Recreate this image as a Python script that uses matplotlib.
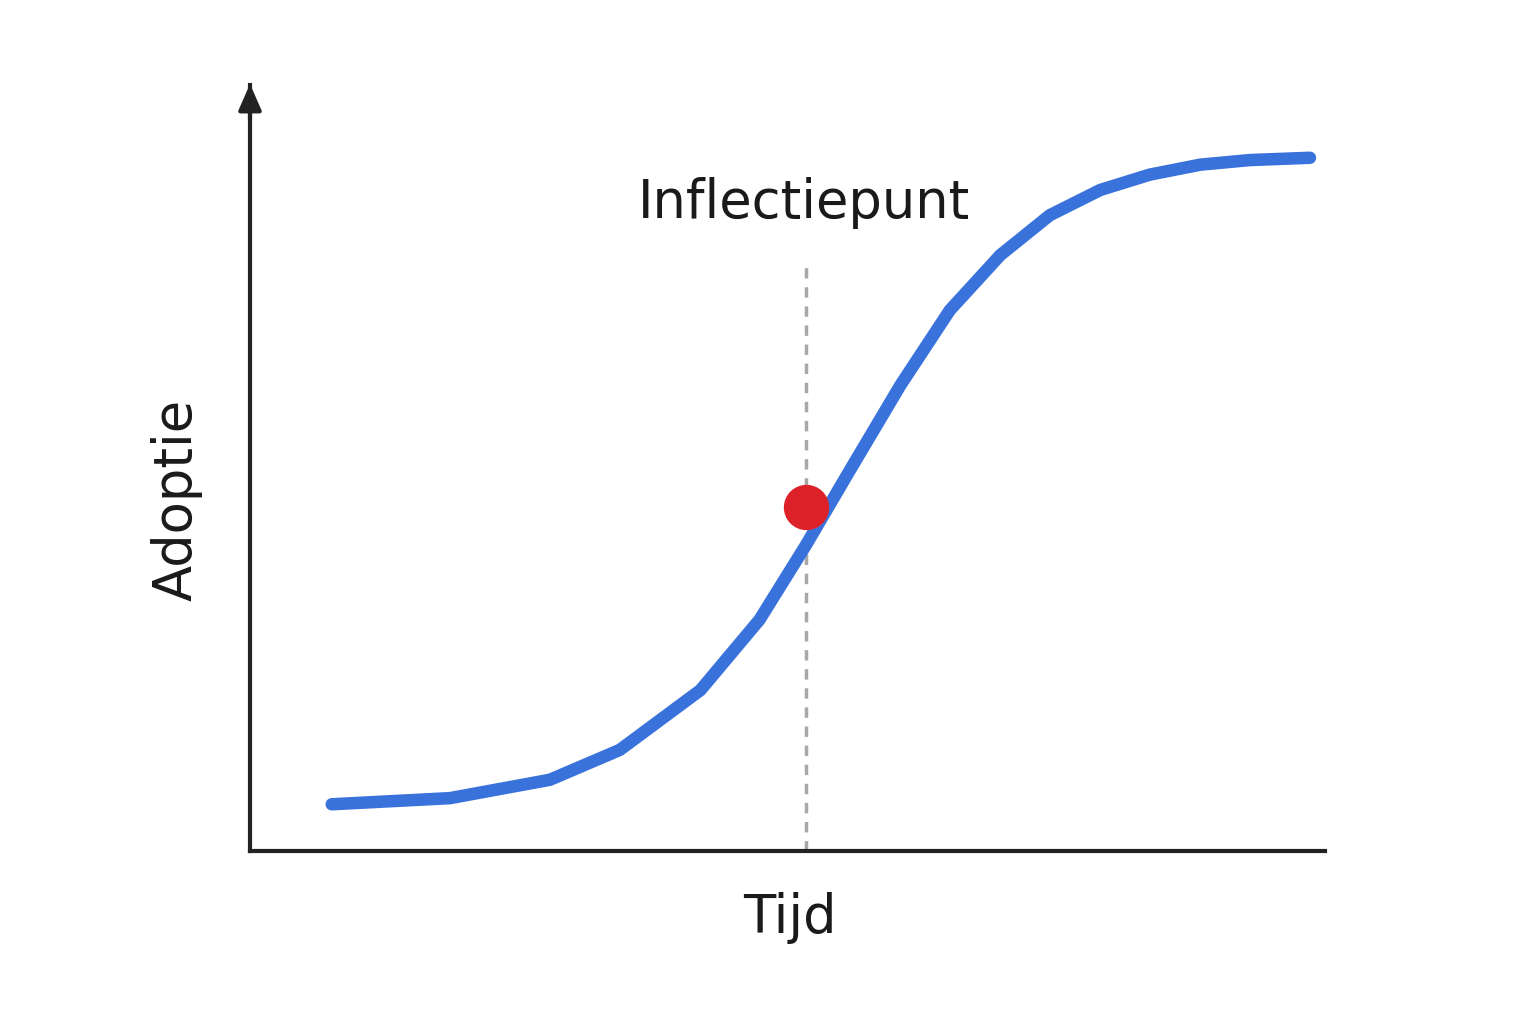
import matplotlib.pyplot as plt
import numpy as np

# S-curve (time vs adoption, 0-100 scale)
tijd = [7.6, 18.6, 27.9, 34.4, 41.9, 47.4, 51.7, 55.8, 60.5, 65.1, 69.8, 74.4, 79.1, 83.7, 88.4, 93.0, 98.6]
adoptie = [6.1, 6.9, 9.3, 13.2, 21.0, 30.2, 39.9, 49.7, 60.8, 70.6, 77.8, 83.0, 86.3, 88.3, 89.6, 90.2, 90.5]
inflectie_t = 51.7
inflectie_a = 44.9

fig = plt.figure(figsize=(15.36, 10.24), dpi=100)
ax = fig.add_axes([250 / 1536, 173 / 1024, 1075 / 1536, 766 / 1024])
ax.set_xlim(0, 100)
ax.set_ylim(0, 100)

for s in ["top", "right"]:
    ax.spines[s].set_visible(False)
for s in ["left", "bottom"]:
    ax.spines[s].set_linewidth(3)
    ax.spines[s].set_color("#222222")
ax.set_xticks([])
ax.set_yticks([])

# arrow head on the y axis
ax.annotate("", xy=(0, 100.5), xytext=(0, 95), annotation_clip=False,
            arrowprops=dict(arrowstyle="-|>,head_length=1.6,head_width=0.7",
                            color="#222222", lw=3))

ax.plot([inflectie_t, inflectie_t], [0, 77.2], linestyle=(0, (3, 2.5)),
        color="#a8a8a8", lw=2.5, zorder=1)
ax.plot(tijd, adoptie, color="#3a72dc", lw=9, solid_capstyle="round", zorder=2)
ax.scatter([inflectie_t], [inflectie_a], s=1000, color="#dc2228", zorder=3)

ax.text(51.5, 84.6, "Inflectiepunt", ha="center", va="center", fontsize=38, color="#1a1a1a")
ax.text(50.2, -8.7, "Tijd", ha="center", va="center", fontsize=38, color="#1a1a1a", clip_on=False)
ax.text(-6.8, 45.8, "Adoptie", ha="center", va="center", rotation=90, fontsize=38,
        color="#1a1a1a", clip_on=False)

fig.savefig("out.png", dpi=100)
